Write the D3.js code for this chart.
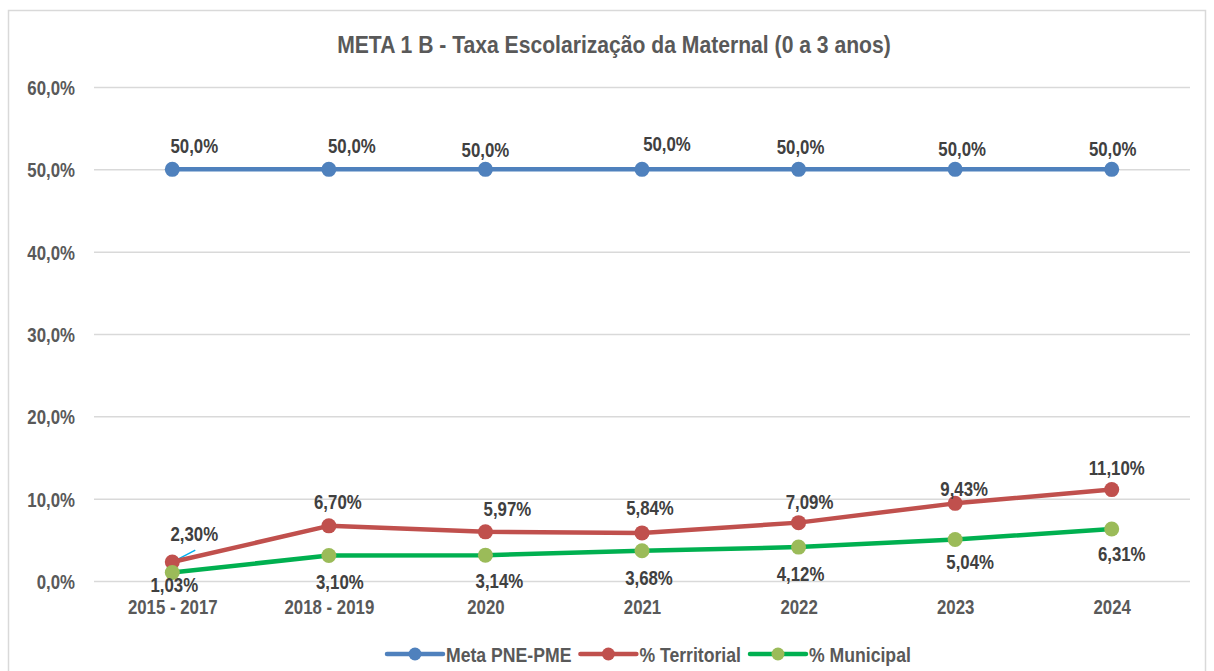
<!DOCTYPE html>
<html><head><meta charset="utf-8">
<script src="https://cdn.jsdelivr.net/npm/d3@7"></script>
<style>
body{margin:0;background:#fff;}
svg text{font-family:"Liberation Sans Narrow","Arial Narrow","Liberation Sans",Arial,sans-serif;font-weight:bold;fill:#595959;}
</style></head><body>
<svg id="chart" width="1214" height="671"></svg>
<script>
const categories = ["2015 - 2017","2018 - 2019","2020","2021","2022","2023","2024"];
const meta = [50.0,50.0,50.0,50.0,50.0,50.0,50.0];
const territorial = [2.30,6.70,5.97,5.84,7.09,9.43,11.10];
const municipal = [1.03,3.10,3.14,3.68,4.12,5.04,6.31];
const metaLabels = ["50,0%","50,0%","50,0%","50,0%","50,0%","50,0%","50,0%"];
const territorialLabels = ["2,30%","6,70%","5,97%","5,84%","7,09%","9,43%","11,10%"];
const municipalLabels = ["1,03%","3,10%","3,14%","3,68%","4,12%","5,04%","6,31%"];
const yTicks = [0,10,20,30,40,50,60];
const yTickLabels = ["0,0%","10,0%","20,0%","30,0%","40,0%","50,0%","60,0%"];
const seriesNames = ["Meta PNE-PME","% Territorial","% Municipal"];
const titleText = "META 1 B - Taxa Escolarização da Maternal (0 a 3 anos)";

const svg = d3.select("#chart");
const mLeft=94,mRight=1190,mTop=87,mBottom=581;
const CONDENSE = 0.82;
const FS = "20.5px";
function condense(sel,f){
  sel.each(function(){
    const w=this.getComputedTextLength();
    d3.select(this).attr("textLength",w*(f||CONDENSE)).attr("lengthAdjust","spacingAndGlyphs");
  });
}

svg.append("rect").attr("x",8.5).attr("y",10.5).attr("width",1197).attr("height",670)
  .attr("fill","#fff").attr("stroke","#d9d9d9").attr("stroke-width",1.5);

const x = d3.scalePoint().domain(categories).range([mLeft,mRight]).padding(0.5);
const y = d3.scaleLinear().domain([0,60]).range([mBottom,mTop]);

const title = svg.append("text").attr("x",614).attr("y",53).attr("text-anchor","middle")
  .style("font-size","24px").text(titleText);
condense(title,0.88);

const yAxis = d3.axisLeft(y).tickValues(yTicks).tickSize(-(mRight-mLeft)).tickFormat((d,i)=>yTickLabels[i]);
const gy = svg.append("g").attr("transform",`translate(${mLeft},0)`).call(yAxis);
gy.select(".domain").remove();
gy.selectAll(".tick line").attr("stroke","#d9d9d9").attr("stroke-width",1.5);
gy.selectAll(".tick text").attr("x",-19).attr("dy","0.36em").style("font-size",FS).attr("fill","#595959");
condense(gy.selectAll(".tick text"));

const xAxis = d3.axisBottom(x).tickSize(0).tickPadding(0);
const gx = svg.append("g").attr("transform",`translate(0,${mBottom})`).call(xAxis);
gx.select(".domain").remove();
gx.selectAll(".tick text").attr("y",33).attr("dy",0).style("font-size",FS).attr("fill","#595959");
condense(gx.selectAll(".tick text"));

const series = [
 {name:seriesNames[0],values:meta,line:"#4F81BD",marker:"#4F81BD",labels:metaLabels},
 {name:seriesNames[1],values:territorial,line:"#C0504D",marker:"#C0504D",labels:territorialLabels},
 {name:seriesNames[2],values:municipal,line:"#00B050",marker:"#9BBB59",labels:municipalLabels}
];
const line = d3.line().x((d,i)=>x(categories[i])).y(d=>y(d));

// label placement offsets relative to each point (layout only)
const labelPos = [
 {dx:[22,23,0,25,2,7,1], dy:[-16,-16,-12,-18,-15,-13,-13]},
 {dx:[22,9,22,8,11,9,5], dy:[-21,-17,-16,-18,-14,-7,-15]},
 {dx:[2,11,14,7,2,15,10], dy:[19,34,33,34,34,29,32]}
];

svg.append("line").attr("x1",x(categories[0])+2).attr("y1",y(territorial[0])-1)
  .attr("x2",x(categories[0])+23).attr("y2",y(territorial[0])-12)
  .attr("stroke","#00B0F0").attr("stroke-width",1.5);

series.forEach(s=>{
  svg.append("path").datum(s.values).attr("d",line).attr("fill","none")
    .attr("stroke",s.line).attr("stroke-width",4.5).attr("stroke-linejoin","round");
});
series.forEach(s=>{
  svg.selectAll(null).data(s.values).enter().append("circle")
    .attr("cx",(d,i)=>x(categories[i])).attr("cy",d=>y(d)).attr("r",7.5).attr("fill",s.marker);
});
series.forEach((s,k)=>{
  const t = svg.selectAll(null).data(s.values).enter().append("text")
    .attr("x",(d,i)=>x(categories[i])+labelPos[k].dx[i])
    .attr("y",(d,i)=>y(d)+labelPos[k].dy[i])
    .attr("text-anchor","middle").style("font-size",FS).style("fill","#404040")
    .text((d,i)=>s.labels[i]);
  condense(t);
});

// legend
let lx = 387;
series.forEach((s,k)=>{
  const g = svg.append("g").attr("transform",`translate(${lx},654)`);
  g.append("line").attr("x1",0).attr("x2",56).attr("stroke",s.line).attr("stroke-width",4.5).attr("stroke-linecap","round");
  g.append("circle").attr("cx",28).attr("r",6.5).attr("fill",s.marker);
  const t = g.append("text").attr("x",59).attr("y",7.5).style("font-size",FS).text(s.name);
  condense(t,0.86);
  lx += 59 + (+t.attr("textLength")) + 9;
});
</script></body></html>
